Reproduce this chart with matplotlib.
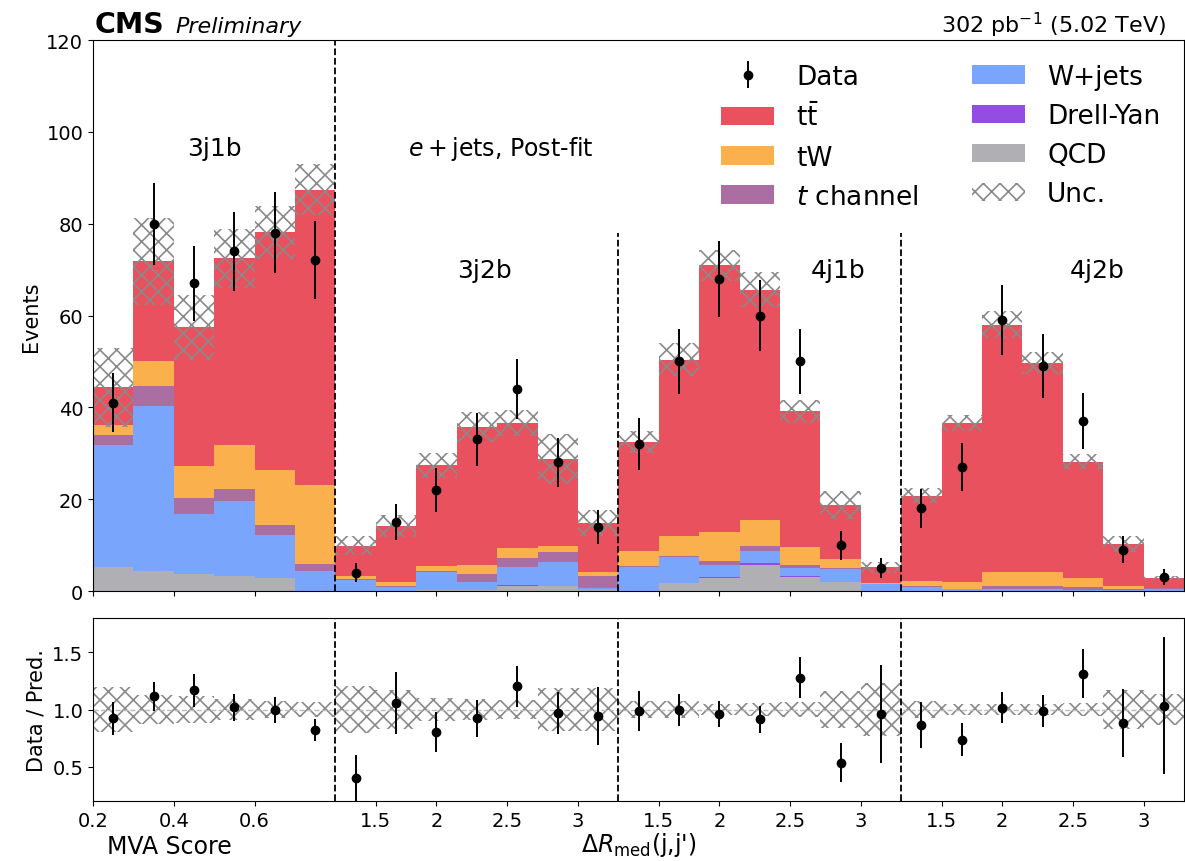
import matplotlib.pyplot as plt
import numpy as np

# bins per region: 3j1b (MVA score), 3j2b / 4j1b / 4j2b (Delta R med)
region_labels = ['3j1b', '3j2b', '4j1b', '4j2b']
region_bins = [6, 7, 7, 7]

data = np.array([41, 80, 67, 74, 78, 72,
                 4, 15, 22, 33, 44, 28, 14,
                 32, 50, 68, 60, 50, 10, 5,
                 18, 27, 59, 49, 37, 9, 3], dtype=float)

qcd = [5.2, 4.4, 3.7, 3.2, 2.8, 0.0,
       0.1, 0.1, 0.3, 0.3, 1.2, 1.2, 0.2,
       0.0, 1.7, 2.8, 5.7, 3.0, 1.9, 0.0,
       0.0, 0.0, 0.0, 0.0, 0.0, 0.0, 0.0]
dy = [0.0, 0.0, 0.0, 0.0, 0.0, 0.0,
      0.0, 0.0, 0.0, 0.0, 0.2, 0.0, 0.0,
      0.0, 0.0, 0.3, 0.5, 0.2, 0.0, 0.0,
      0.0, 0.0, 0.0, 0.0, 0.0, 0.0, 0.0]
wjets = [26.5, 36.0, 13.1, 16.3, 9.4, 4.4,
         2.3, 0.8, 3.8, 1.6, 3.9, 5.2, 0.5,
         5.2, 5.8, 2.6, 2.6, 1.8, 2.9, 1.5,
         0.9, 0.4, 0.5, 0.5, 0.3, 0.3, 0.5]
tchan = [2.3, 4.3, 3.4, 2.7, 2.2, 1.5,
         0.3, 0.3, 0.2, 1.8, 1.9, 2.0, 2.6,
         0.3, 0.2, 0.9, 0.9, 0.7, 0.2, 0.1,
         0.2, 0.1, 0.5, 0.5, 0.5, 0.2, 0.1]
tw = [2.2, 5.5, 7.1, 9.6, 12.0, 17.2,
      0.5, 0.7, 1.2, 2.0, 2.2, 1.5, 0.9,
      3.3, 4.3, 6.3, 5.8, 3.8, 2.0, 0.2,
      1.1, 1.4, 3.2, 3.2, 2.0, 0.5, 0.1]
ttbar = [8.2, 21.6, 30.1, 40.7, 51.7, 64.3,
         6.7, 12.3, 21.9, 30.0, 27.2, 18.9, 10.6,
         23.6, 38.4, 58.0, 50.1, 29.6, 11.7, 3.4,
         18.6, 34.7, 53.8, 45.5, 25.4, 9.2, 2.2]
unc = np.array([8.6, 9.4, 7.0, 6.4, 5.7, 5.6,
                2.0, 2.4, 2.7, 3.2, 2.9, 5.4, 2.8,
                2.4, 3.6, 3.3, 3.8, 2.5, 3.0, 1.2,
                1.6, 1.8, 3.0, 2.4, 1.7, 1.7, 0.4])

tt_label = r'$\mathrm{t}\bar{\mathrm{t}}$'
processes = [qcd, dy, wjets, tchan, tw, ttbar]
proc_labels = ['QCD', 'Drell-Yan', 'W+jets', r'$t$ channel', 'tW', tt_label]
colors = ['#9c9ca1', '#7a21dd', '#5790fc', '#964a8b', '#f89c20', '#e42536']

tick_pos = [0, 2, 4, 7, 8.5, 10.25, 12, 14, 15.5, 17.25, 19, 21, 22.5, 24.25, 26]
tick_lab = ['0.2', '0.4', '0.6', '1.5', '2', '2.5', '3',
            '1.5', '2', '2.5', '3', '1.5', '2', '2.5', '3']

nb = len(data)
edges = np.arange(nb)
centers = edges + 0.5
bounds = np.cumsum(region_bins)[:-1]

plt.rcParams['hatch.linewidth'] = 1.2
fig = plt.figure(figsize=(11.85, 8.62), dpi=100)
ax = fig.add_axes([0.0785, 0.3132, 0.9207, 0.6392])
axr = fig.add_axes([0.0785, 0.0696, 0.9207, 0.2123])

bottom = np.zeros(nb)
handles = {}
for vals, lab, c in zip(processes, proc_labels, colors):
    b = ax.bar(edges, vals, bottom=bottom, width=1.0, align='edge', color=c,
               alpha=0.8, linewidth=0)
    handles[lab] = b
    bottom += np.array(vals)
pred = bottom

hb = ax.bar(edges, 2 * unc, bottom=pred - unc, width=1.0, align='edge', fill=False,
            hatch='xx', edgecolor='#8a8a8a', linewidth=0)
eb = ax.errorbar(centers, data, yerr=np.sqrt(data), fmt='o', color='black',
                 ms=6, elinewidth=1.4, capsize=0)

ax.axvline(bounds[0], color='black', ls='--', lw=1.3)
for xb in bounds[1:]:
    ax.vlines(xb, 0, 78, color='black', ls='--', lw=1.3)

ax.set_xlim(0, nb)
ax.set_ylim(0, 120)
ax.set_xticks(tick_pos)
ax.set_xticklabels([])
ax.tick_params(labelsize=14)
ax.set_ylabel('Events', fontsize=15)

ax.text(3.0, 96.5, region_labels[0], fontsize=18, ha='center', va='center')
ax.text(9.7, 70, region_labels[1], fontsize=18, ha='center', va='center')
ax.text(18.45, 70, region_labels[2], fontsize=18, ha='center', va='center')
ax.text(24.85, 70, region_labels[3], fontsize=18, ha='center', va='center')
ax.text(10.1, 96.5, r'$e +$jets, Post-fit', fontsize=17, ha='center', va='center')

fig.text(0.080, 0.9617, 'CMS', fontsize=20.5, fontweight='bold', va='baseline')
fig.text(0.148, 0.9617, 'Preliminary', fontsize=16, style='italic', va='baseline')
fig.text(0.984, 0.9617, r'302 pb$^{-1}$ (5.02 TeV)', fontsize=16, ha='right', va='baseline')

leg_h = [eb, handles[tt_label], handles['tW'], handles[r'$t$ channel'],
         handles['W+jets'], handles['Drell-Yan'], handles['QCD'], hb]
leg_l = ['Data', tt_label, 'tW', r'$t$ channel',
         'W+jets', 'Drell-Yan', 'QCD', 'Unc.']
ax.legend(leg_h, leg_l, loc='upper right', ncol=2, frameon=False, fontsize=19,
          handlelength=2.0, handletextpad=0.85, labelspacing=0.5, columnspacing=2.0)

# ratio panel
ratio = data / pred
rerr = np.sqrt(data) / pred
axr.bar(edges, 2 * unc / pred, bottom=1 - unc / pred, width=1.0, align='edge', fill=False,
        hatch='xx', edgecolor='#8a8a8a', linewidth=0)
axr.axhline(1.0, color='#bbbbbb', ls='--', lw=1)
axr.errorbar(centers, ratio, yerr=rerr, fmt='o', color='black', ms=6,
             elinewidth=1.4, capsize=0)
for xb in bounds:
    axr.axvline(xb, color='black', ls='--', lw=1.3)
axr.set_xlim(0, nb)
axr.set_ylim(0.2, 1.8)
axr.set_yticks([0.5, 1.0, 1.5])
axr.set_xticks(tick_pos)
axr.set_xticklabels(tick_lab)
axr.tick_params(labelsize=14)
axr.set_ylabel('Data / Pred.', fontsize=15)
axr.text(1.9, -0.245, 'MVA Score', fontsize=17, ha='center', va='center',
         transform=axr.get_xaxis_transform())
axr.text(13.5, -0.235, r"$\Delta R_{\mathrm{med}}$(j,j')", fontsize=17, ha='center',
         va='center', transform=axr.get_xaxis_transform())

fig.savefig('out.png', dpi=100)
